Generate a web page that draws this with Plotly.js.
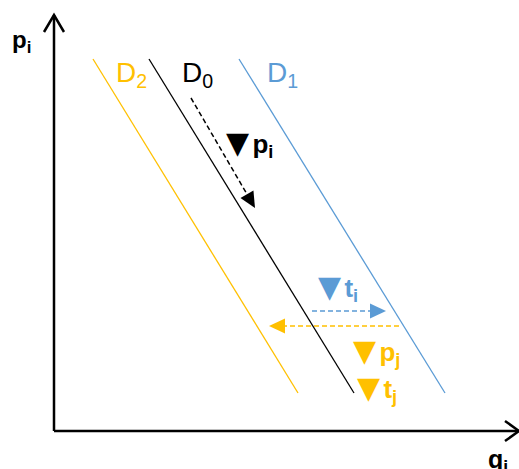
<!DOCTYPE html>
<html>
<head>
<meta charset="utf-8">
<script src="https://cdn.plot.ly/plotly-3.0.1.min.js"></script>
<style>
  html, body { margin: 0; padding: 0; background: #fff; }
  #chart { width: 519px; height: 469px; }
</style>
</head>
<body>
<div id="chart"></div>
<script>
// Demand curves (q at both ends, p at both ends)
const curveNames = ['D<sub>2</sub>', 'D<sub>0</sub>', 'D<sub>1</sub>'];
const curveQ = [[39, 244], [95, 300], [185, 391]];
const curveP = [[372, 38], [372, 38], [372, 38]];
const curveColors = ['#FFC000', '#000000', '#5B9BD5'];
const curveLabelQ = [60, 126, 211];
const curveLabelP = [357, 357, 357];

// Shift arrows (start -> end)
const shiftQ = [[137, 201], [258, 332], [345, 215]];
const shiftP = [[333, 223], [120, 120], [105, 105]];
const shiftColors = ['#000000', '#5B9BD5', '#FFC000'];

// Arrow labels
const tagSub = ['p<sub>i</sub>', 't<sub>i</sub>', 'p<sub>j</sub>', 't<sub>j</sub>'];
const tagQ = [170, 262, 297, 301];
const tagP = [288, 144, 80, 43];
const tagColors = ['#000000', '#5B9BD5', '#FFC000', '#FFC000'];

// Axes extent
const qMax = 465;
const pMax = 416;

let data = [];

// Axis lines with open arrow heads
data.push({
    x: [0, 0, null, 0, qMax], y: [pMax, 0, null, 0, 0],
    mode: 'lines', line: { color: '#000', width: 2.5 }, hoverinfo: 'skip'
});
const headL = 17, headW = 10;
data.push({
    x: [-headW, 0, headW, null, qMax - headL + 3, qMax, qMax - headL + 3],
    y: [pMax - headL, pMax, pMax - headL, null, headW, 0, -headW],
    mode: 'lines', line: { color: '#000', width: 2.5 }, hoverinfo: 'skip'
});

// Demand curves
for (let i = 0; i < curveQ.length; i++) {
    data.push({
        x: curveQ[i], y: curveP[i], mode: 'lines',
        line: { color: curveColors[i], width: 1.3 }, hoverinfo: 'skip'
    });
}

// Dashed shift arrows with filled triangle heads
const tipL = 16, tipW = 7.5;
for (let i = 0; i < shiftQ.length; i++) {
    const [x0, x1] = shiftQ[i];
    const [y0, y1] = shiftP[i];
    const len = Math.hypot(x1 - x0, y1 - y0);
    const ux = (x1 - x0) / len, uy = (y1 - y0) / len;
    const bx = x1 - ux * tipL, by = y1 - uy * tipL;
    data.push({
        x: [x0, bx], y: [y0, by], mode: 'lines',
        line: { color: shiftColors[i], width: 1.5, dash: '5px,3px' }, hoverinfo: 'skip'
    });
    data.push({
        x: [x1, bx - uy * tipW, bx + uy * tipW, x1],
        y: [y1, by + ux * tipW, by - ux * tipW, y1],
        mode: 'lines', fill: 'toself', fillcolor: shiftColors[i],
        line: { color: shiftColors[i], width: 0 }, hoverinfo: 'skip'
    });
}

const font = 'Liberation Sans, Arial, sans-serif';
let annotations = [];
for (let i = 0; i < curveNames.length; i++) {
    annotations.push({
        x: curveLabelQ[i], y: curveLabelP[i], xref: 'x', yref: 'y',
        text: curveNames[i], showarrow: false, xanchor: 'left', yanchor: 'middle',
        font: { family: font, size: 28, color: curveColors[i] }
    });
}
for (let i = 0; i < tagSub.length; i++) {
    annotations.push({
        x: tagQ[i], y: tagP[i], xref: 'x', yref: 'y',
        text: '<span style="font-family:DejaVu Sans;font-size:30px">▼</span><span style="font-size:12px"> </span><b>' + tagSub[i] + '</b>',
        showarrow: false, xanchor: 'left', yanchor: 'middle',
        font: { family: font, size: 26, color: tagColors[i] }
    });
}
// Axis titles
annotations.push({
    x: -44, y: 390, xref: 'x', yref: 'y', text: '<b>p<sub>i</sub></b>',
    showarrow: false, xanchor: 'left', yanchor: 'middle',
    font: { family: font, size: 24, color: '#000' }
});
annotations.push({
    x: 456, y: -30, xref: 'x', yref: 'y', text: '<b>q<sub>i</sub></b>',
    showarrow: false, xanchor: 'right', yanchor: 'middle',
    font: { family: font, size: 25, color: '#000' }
});

const layout = {
    width: 519, height: 469,
    margin: { l: 0, r: 0, t: 0, b: 0 },
    paper_bgcolor: '#fff', plot_bgcolor: '#fff',
    showlegend: false,
    xaxis: { range: [-54, 465], visible: false, fixedrange: true },
    yaxis: { range: [-38, 431], visible: false, fixedrange: true },
    annotations: annotations
};

Plotly.newPlot('chart', data, layout, { displayModeBar: false, staticPlot: true });
</script>
</body>
</html>
